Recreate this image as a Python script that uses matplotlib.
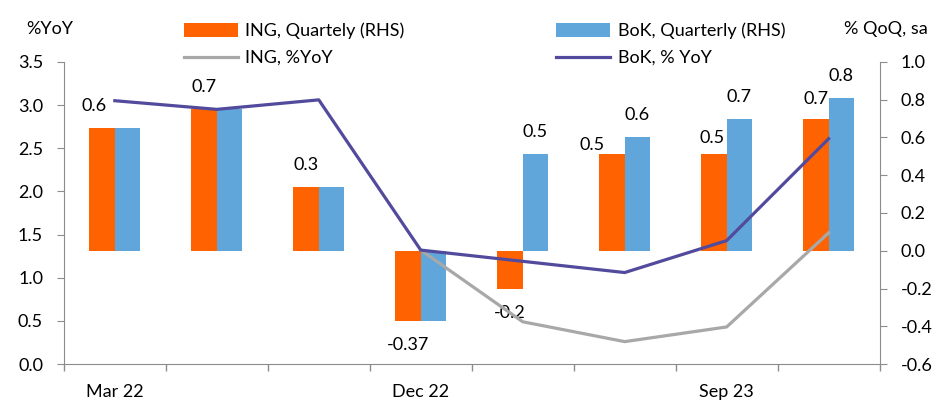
import numpy as np
import matplotlib
matplotlib.use("Agg")
import matplotlib.pyplot as plt
from matplotlib.ticker import FixedLocator, NullFormatter

plt.rcParams['font.family'] = ['Lato', 'DejaVu Sans']

# data
quarters = ['Mar 22', 'Jun 22', 'Sep 22', 'Dec 22', 'Mar 23', 'Jun 23', 'Sep 23', 'Dec 23']
shown_ticks = ['Mar 22', 'Dec 22', 'Sep 23']

ing_qoq = [0.65, 0.75, 0.34, -0.37, -0.20, 0.51, 0.51, 0.70]
bok_qoq = [0.65, 0.75, 0.34, -0.37, 0.51, 0.60, 0.70, 0.81]
ing_qoq_lbl = ['0.6', '0.7', '0.3', '-0.37', '-0.2', '0.5', '0.5', '0.7']
bok_qoq_lbl = ['', '', '', '', '0.5', '0.6', '0.7', '0.8']

ing_yoy = [np.nan, np.nan, np.nan, 1.32, 0.49, 0.26, 0.43, 1.52]
bok_yoy = [3.05, 2.95, 3.06, 1.32, 1.19, 1.06, 1.43, 2.61]

orange = '#FF6200'
blue = '#60A6DA'
grey = '#A8A8A8'
purple = '#524A9C'
axis_grey = '#8C8C8C'

# small manual nudges for a few ING labels (pixels)
ing_nudge = {0: (-8, 0), 5: (-20, -13), 6: (-2, -6), 7: (0, -2)}

x = np.arange(len(quarters))
w = 0.25
fs = 13

fig = plt.figure(figsize=(9.53, 4.18), dpi=100)
ax = fig.add_axes([0.067, 0.129, 0.856, 0.723])   # left axis, lines
ax2 = ax.twinx()                                    # right axis, bars

b1 = ax2.bar(x - w / 2, ing_qoq, w, color=orange, label='ING, Quartely (RHS)')
b2 = ax2.bar(x + w / 2, bok_qoq, w, color=blue, label='BoK, Quarterly (RHS)')

for i, v in enumerate(ing_qoq):
    dx, dy = ing_nudge.get(i, (0, 0))
    off = 22 if v >= 0 else -24
    ax2.annotate(ing_qoq_lbl[i], (x[i] - w / 2, v), xytext=(dx, off + dy),
                 textcoords='offset pixels', ha='center', va='center', fontsize=fs)
for i, v in enumerate(bok_qoq):
    if bok_qoq_lbl[i]:
        ax2.annotate(bok_qoq_lbl[i], (x[i] + w / 2, v), xytext=(0, 22),
                     textcoords='offset pixels', ha='center', va='center', fontsize=fs)

l1, = ax.plot(x, ing_yoy, color=grey, lw=2.3, label='ING, %YoY')
l2, = ax.plot(x, bok_yoy, color=purple, lw=2.3, label='BoK, % YoY')

ax.set_zorder(ax2.get_zorder() + 1)
ax.patch.set_visible(False)

ax.set_xlim(-0.5, len(quarters) - 0.5)
ax.set_ylim(0, 3.5)
ax.set_yticks(np.arange(0, 3.51, 0.5))
ax.set_yticklabels([f'{t:.1f}' for t in np.arange(0, 3.51, 0.5)])
ax2.set_ylim(-0.6, 1.0)
ax2.set_yticks(np.arange(-0.6, 1.01, 0.2))
ax2.set_yticklabels([f'{t:.1f}' for t in np.arange(-0.6, 1.01, 0.2)])

ax.set_xticks([quarters.index(q) for q in shown_ticks])
ax.set_xticklabels(shown_ticks)
ax.xaxis.set_minor_locator(FixedLocator(np.arange(-0.5, len(quarters), 1)))
ax.xaxis.set_minor_formatter(NullFormatter())
ax.tick_params(axis='x', which='major', length=0, pad=14, labelsize=fs)
ax.tick_params(axis='x', which='minor', length=5, color=axis_grey, width=1)
ax.tick_params(axis='y', length=5, color=axis_grey, pad=10, labelsize=fs)
ax2.tick_params(axis='y', length=5, color=axis_grey, pad=10, labelsize=fs)

for a in (ax, ax2):
    a.spines['top'].set_visible(False)
    for s in ('left', 'right', 'bottom'):
        a.spines[s].set_color(axis_grey)
ax2.spines['bottom'].set_visible(False)
ax2.spines['left'].set_visible(False)
ax.spines['right'].set_visible(False)

fig.text(0.028, 0.93, '%YoY', fontsize=fs, va='center', ha='left')
fig.text(0.973, 0.93, '% QoQ, sa', fontsize=fs, va='center', ha='right')

fig.legend([b1, l1, b2, l2],
           ['ING, Quartely (RHS)', 'ING, %YoY', 'BoK, Quarterly (RHS)', 'BoK, % YoY'],
           ncol=2, loc='upper left', bbox_to_anchor=(0.176, 0.985), frameon=False,
           fontsize=fs, handlelength=3.0, handleheight=0.8, handletextpad=0.4,
           columnspacing=8.4, labelspacing=0.6)

fig.savefig('out.png', dpi=100)
